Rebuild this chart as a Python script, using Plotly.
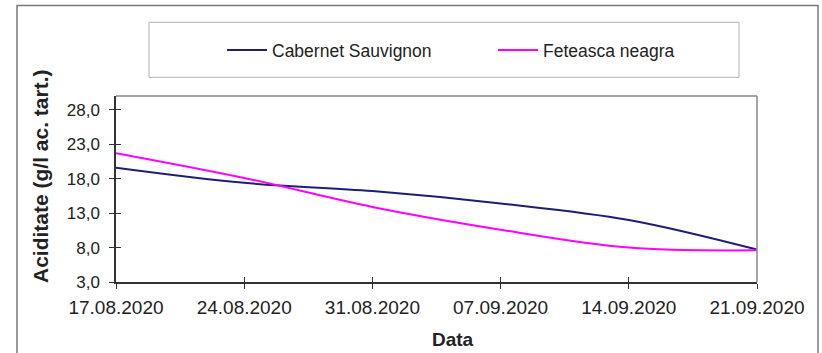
import plotly.graph_objects as go

dates = ["2020-08-17", "2020-08-24", "2020-08-31", "2020-09-07", "2020-09-14", "2020-09-21"]
tick_labels = ["17.08.2020", "24.08.2020", "31.08.2020", "07.09.2020", "14.09.2020", "21.09.2020"]
cabernet = [19.6, 17.4, 16.2, 14.4, 12.0, 7.7]
feteasca = [21.7, 18.1, 13.9, 10.6, 8.0, 7.6]
y_ticks = [3, 8, 13, 18, 23, 28]
y_tick_labels = ["3,0", "8,0", "13,0", "18,0", "23,0", "28,0"]

W, H = 822, 353
L, R, T, B = 116, 65, 96, 71
PW, PH = W - L - R, H - T - B

def px(x):
    return (x - L) / PW

def py(y):
    return (H - B - y) / PH

FONT = "Liberation Sans, Arial, sans-serif"

fig = go.Figure()
fig.add_trace(go.Scatter(x=dates, y=cabernet, name="Cabernet Sauvignon", mode="lines",
                         line=dict(color="#1e1e78", width=2, shape="spline", smoothing=1)))
fig.add_trace(go.Scatter(x=dates, y=feteasca, name="Feteasca neagra", mode="lines",
                         line=dict(color="#ff00ff", width=2, shape="spline", smoothing=1)))
# overlay axes for inside half of cross ticks
fig.add_trace(go.Scatter(x=[], y=[], xaxis="x2", yaxis="y2", showlegend=False, hoverinfo="skip"))

fig.update_layout(
    width=W, height=H,
    margin=dict(l=L, r=R, t=T, b=B, autoexpand=False),
    paper_bgcolor="white", plot_bgcolor="white",
    font=dict(family=FONT, color="#222"),
    showlegend=True,
    legend=dict(orientation="h", x=px(222), xanchor="left", y=py(50), yanchor="middle",
                font=dict(size=17.5, family=FONT, color="#222"), bgcolor="rgba(0,0,0,0)",
                entrywidth=216, entrywidthmode="pixels", itemwidth=40),
    xaxis=dict(type="date", range=[dates[0], dates[-1]], tickvals=dates, ticktext=tick_labels,
               showgrid=False, zeroline=False, showline=True, linecolor="#333", linewidth=1.5,
               ticks="outside", ticklen=5, tickwidth=1.2, tickcolor="#333", ticklabelstandoff=2,
               tickfont=dict(size=19, family=FONT, color="#222")),
    yaxis=dict(range=[3, 30], tickvals=y_ticks, ticktext=y_tick_labels,
               showgrid=False, zeroline=False, showline=True, linecolor="#333", linewidth=1.5,
               ticks="outside", ticklen=5, tickwidth=1.2, tickcolor="#333", ticklabelstandoff=6,
               tickfont=dict(size=17, family=FONT, color="#222")),
    xaxis2=dict(type="date", range=[dates[0], dates[-1]], tickvals=dates, overlaying="x",
                showticklabels=False, showgrid=False, zeroline=False, showline=False,
                ticks="inside", ticklen=5, tickwidth=1.2, tickcolor="#333"),
    yaxis2=dict(range=[3, 30], tickvals=y_ticks, overlaying="y", showticklabels=False,
                showgrid=False, zeroline=False, showline=False,
                ticks="inside", ticklen=5, tickwidth=1.2, tickcolor="#333"),
)

shapes = [
    # outer chart border
    dict(type="rect", xref="paper", yref="paper", x0=px(17), x1=px(818), y0=py(370), y1=py(5.5),
         line=dict(color="#7a7a7a", width=1.5), layer="below"),
    # legend box
    dict(type="rect", xref="paper", yref="paper", x0=px(149), x1=px(739), y0=py(77.3), y1=py(22.3),
         line=dict(color="#b0b0b0", width=1), layer="below"),
    # plot-area frame (top & right)
    dict(type="line", xref="paper", yref="paper", x0=0, x1=1, y0=1, y1=1,
         line=dict(color="#8a8a8a", width=1.5)),
    dict(type="line", xref="paper", yref="paper", x0=1, x1=1, y0=0, y1=1,
         line=dict(color="#8a8a8a", width=1.5)),
]
fig.update_layout(shapes=shapes)

fig.add_annotation(text="<b>Aciditate (g/l ac. tart.)</b>", xref="paper", yref="paper",
                   x=px(40), y=py(176), textangle=-90, showarrow=False,
                   font=dict(size=21, family=FONT, color="#222"), xanchor="center", yanchor="middle")
fig.add_annotation(text="<b>Data</b>", xref="paper", yref="paper",
                   x=px(453), y=py(339), showarrow=False,
                   font=dict(size=19, family=FONT, color="#222"), xanchor="center", yanchor="middle")

fig.write_html("out.html", config={"displayModeBar": False},
               post_script="document.body.style.margin='0';document.body.style.overflow='hidden';")
